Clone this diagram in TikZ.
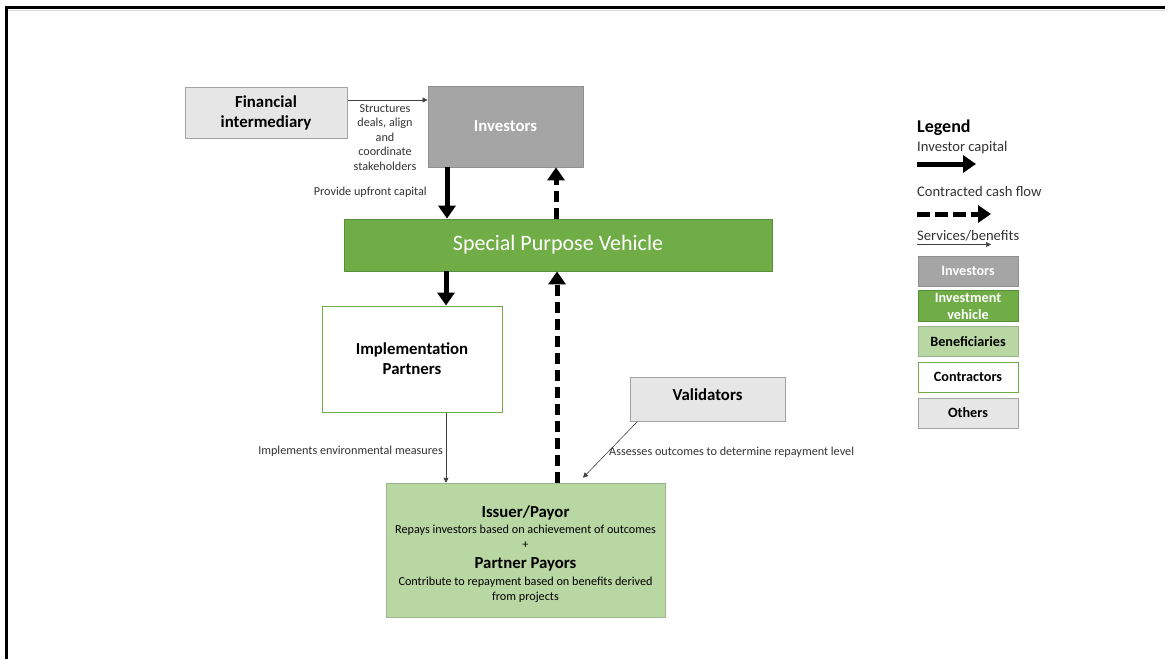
\documentclass[tikz,border=0pt]{standalone}
\usepackage{fontspec}
\setmainfont{Carlito}
\usetikzlibrary{arrows.meta}
\definecolor{boxgray}{HTML}{A5A5A5}
\definecolor{boxgrayline}{HTML}{8F8F8F}
\definecolor{lightgray}{HTML}{E6E6E6}
\definecolor{lightgrayline}{HTML}{A3A3A3}
\definecolor{vgreen}{HTML}{70AD47}
\definecolor{vgreenline}{HTML}{56913A}
\definecolor{bgreen}{HTML}{B9D7A3}
\definecolor{labelgray}{HTML}{333333}
\tikzset{
  box/.style={draw, rectangle, align=center, inner sep=2pt, line width=0.8pt},
  investorbox/.style={box, fill=boxgray, draw=boxgrayline, text=white, font=\bfseries},
  vehiclebox/.style={box, fill=vgreen, draw=vgreenline, text=white},
  benefitbox/.style={box, fill=bgreen, draw=bgreen!85!black, line width=0.5pt},
  contractorbox/.style={box, fill=white, draw=vgreen, line width=1pt},
  otherbox/.style={box, fill=lightgray, draw=lightgrayline, line width=1pt},
  capital/.style={line width=5pt, -{Triangle[width=17pt,length=13pt]}},
  cashflow/.style={line width=5pt, dash pattern=on 11pt off 6pt, -{Triangle[width=17pt,length=13pt]}},
  service/.style={line width=0.6pt, draw=black!75, -{Triangle[width=5pt,length=5pt]}},
  note/.style={font=\fontsize{12.2}{14.5}\selectfont, text=labelgray, align=center, inner sep=0pt},
  legtext/.style={font=\fontsize{14.6}{17}\selectfont, text=black!80, anchor=west, inner sep=0pt},
  legbox/.style={minimum width=100pt, minimum height=30pt, font=\bfseries\fontsize{14.2}{16}\selectfont},
  titlefont/.style={font=\bfseries\fontsize{16.8}{20}\selectfont}
}
\begin{document}
\begin{tikzpicture}[x=1pt, y=-1pt]
\useasboundingbox (0,0) rectangle (1165,659);
% page frame
\draw[black!15, line width=1pt] (8,10) -- (1165,10);
\draw[line width=2.2pt] (6.5,659) -- (6.5,7.5) -- (1165,7.5);

% main boxes
\node[otherbox, minimum width=162pt, minimum height=51pt, titlefont]
  (fin) at (266,112.5) {Financial\\intermediary};
\node[investorbox, minimum width=155pt, minimum height=81pt, titlefont]
  (inv) at (505.5,126.5) {Investors};
\node[vehiclebox, minimum width=428pt, minimum height=52pt, font=\fontsize{22}{26}\selectfont]
  (spv) at (558,245) {Special Purpose Vehicle};
\node[contractorbox, minimum width=180pt, minimum height=106pt, titlefont]
  (impl) at (412,359) {Implementation\\Partners};
\node[otherbox, minimum width=155pt, minimum height=44pt, titlefont]
  (val) at (707.5,399) {Validators\\[-12pt]};
% the strut on the first line lowers the whole text block a little
\node[benefitbox, minimum width=279pt, minimum height=134pt, font=\fontsize{12.2}{15}\selectfont]
  (iss) at (525.5,550)
  {\rule{0pt}{20pt}{\bfseries\fontsize{16.8}{20}\selectfont Issuer/Payor}\\[1pt]
   Repays investors based on achievement of outcomes\\
   +\\[5pt]
   {\bfseries\fontsize{16.8}{20}\selectfont Partner Payors}\\[2pt]
   Contribute to repayment based on benefits derived\\
   from projects};

% connectors
\draw[service] ([yshift=12.5pt]fin.east) -- ([yshift=26.5pt]inv.west);
\node[note] (lstruct) at (385,137.5) {Structures\\deals, align\\and\\coordinate\\stakeholders};
\draw[capital] ([xshift=-58.5pt]inv.south) -- ([xshift=-111pt]spv.north);
\node[note, anchor=east] (lcap) at (427,192) {Provide upfront capital};
\draw[cashflow] ([xshift=-2pt]spv.north) -- ([xshift=50.5pt]inv.south);
\draw[capital] ([xshift=-112pt]spv.south) -- ([xshift=34pt]impl.north);
\draw[cashflow] ([xshift=31.5pt]iss.north) -- ([xshift=-1pt]spv.south);
\draw[service] ([xshift=34pt]impl.south) -- ([xshift=-79.5pt]iss.north);
\node[note, anchor=east] (limpl) at (443,451) {Implements environmental measures};
\draw[service] ([xshift=8pt]val.south west) -- ([xshift=57.5pt,yshift=5pt]iss.north);
\node[note, anchor=west] (lval) at (609,452) {Assesses outcomes to determine repayment level};

% legend
\node[anchor=west, inner sep=0pt, font=\bfseries\fontsize{18}{20}\selectfont] (leg) at (917,128) {Legend};
\node[legtext] (lg1) at (917,148) {Investor capital};
\coordinate (a1) at (917,164);
\coordinate (b1) at (976,164);
\draw[capital] (a1) -- (b1);
\node[legtext] (lg2) at (917,191) {Contracted cash flow};
\coordinate (a2) at (917,214);
\coordinate (b2) at (991,214);
\draw[cashflow, dash pattern=on 13pt off 5pt] (a2) -- (b2);
\node[legtext] (lg3) at (917,236) {Services/benefits};
\coordinate (a3) at (917,244.5);
\coordinate (b3) at (991,244.5);
\draw[service] (a3) -- (b3);
\node[investorbox, legbox] (k1) at (968,271) {Investors};
\node[vehiclebox, legbox, font=\bfseries\fontsize{14.2}{17}\selectfont] (k2) at (968,306) {Investment\\vehicle};
\node[benefitbox, legbox] (k3) at (968,341.5) {Beneficiaries};
\node[contractorbox, legbox] (k4) at (968,377) {Contractors};
\node[otherbox, legbox] (k5) at (968,413) {Others};
\end{tikzpicture}
\end{document}
